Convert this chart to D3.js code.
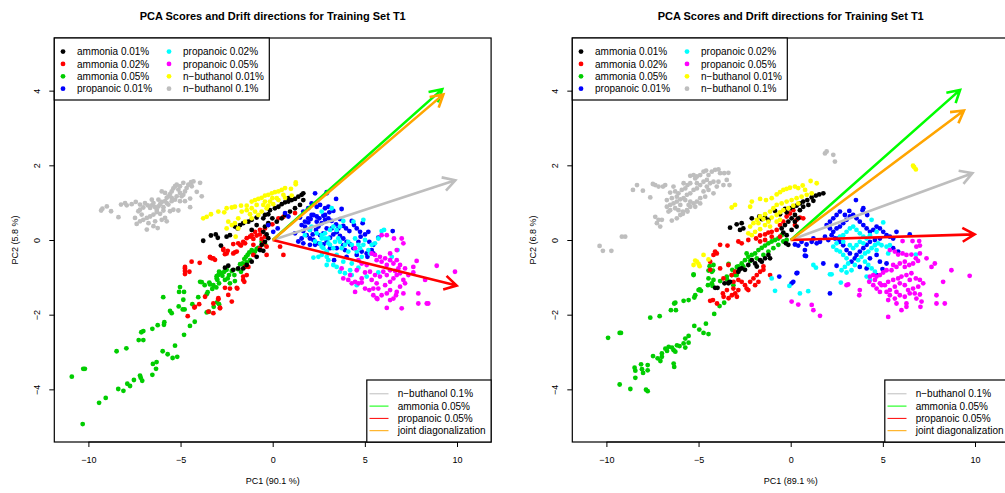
<!DOCTYPE html>
<html><head><meta charset="utf-8">
<script src="https://cdn.jsdelivr.net/npm/d3@7"></script>
<style>
body{margin:0;background:#fff;}
svg{display:block;font-family:"Liberation Sans",Arial,Helvetica,sans-serif;}
</style></head>
<body><svg id="c" width="1005" height="493"></svg>
<script>
// ---------------- DATA ----------------
const titleText = "PCA Scores and Drift directions for Training Set T1";
const groupLabels = ["ammonia 0.01%","ammonia 0.02%","ammonia 0.05%","propanoic 0.01%","propanoic 0.02%","propanoic 0.05%","n\u2212buthanol 0.01%","n\u2212buthanol 0.1%"];
const groupColors = ["#000000","#ff0000","#00cd00","#0000ff","#00ffff","#ff00ff","#ffff00","#bebebe"];
const arrowLabels = ["n\u2212buthanol 0.1%","ammonia 0.05%","propanoic 0.05%","joint diagonalization"];
const arrowColors = ["#bebebe","#00ff00","#ff0000","#ffa500"];
const xTicks = [-10,-5,0,5,10];
const yTicks = [-4,-2,0,2,4];
const xLabels = ["PC1 (90.1 %)","PC1 (89.1 %)"];
const yLabels = ["PC2 (5.8 %)","PC2 (6.8 %)"];

// Left panel drift arrow tips (gray, green, red, orange)
const L_arrowTips = [[9.91,1.6],[9.2,4.04],[9.98,-1.22],[9.26,3.9]];
// Right panel drift arrow tips
const R_arrowTips = [[9.86,1.79],[9.19,4.02],[9.98,0.15],[9.4,3.47]];

// ----- Left panel scores -----
const L_ammonia001 = [[-3.77,-0.02],[-3.35,0.12],[-3.09,0.15],[-2.98,0.06],[-2.81,-0.15],[-2.5,0.09],[-2.32,0.13],[-2.05,0.36],[-1.9,0.31],[-1.77,0.4],[-1.6,0.45],[-1.32,0.49],[-1.14,0.54],[-0.87,0.6],[-0.51,0.58],[-0.42,0.67],[-0.24,0.69],[-0.15,0.8],[0.12,0.85],[0.31,0.89],[0.49,0.96],[0.67,1.01],[0.85,1.03],[1.03,1.07],[1.21,1.1],[1.39,1.16],[1.57,1.21],[1.66,1.07],[1.48,0.94],[1.21,0.85],[0.94,0.76],[0.67,0.67],[0.49,0.58],[0.22,0.49],[-0.02,0.58],[-0.24,0.45],[-0.42,0.36],[-0.51,0.22],[-0.33,0.15],[-0.24,0.05],[-0.42,-0.05],[-0.6,-0.13],[-0.69,-0.27],[-0.51,-0.29],[-0.87,-0.45],[-1.14,-0.58],[-1.41,-0.67],[-1.6,-0.76],[-1.87,-0.76],[-2.14,-0.8],[-2.41,-0.69],[-2.59,-0.74],[-0.87,0.4],[-1.14,0.27],[0.85,1.12],[1.66,1.25]];
const L_ammonia002 = [[-4.4,-0.58],[-3.96,-0.61],[-3.4,-0.47],[-3.31,-0.49],[-3.13,-0.53],[-4.76,-0.76],[-4.76,-0.83],[-4.76,-0.91],[-4.52,-0.85],[-3.67,-1.52],[-3.99,-1.72],[-4.25,-1.81],[-4.61,-2.04],[-3.22,-1.96],[-2.95,-1.56],[-2.86,-1.81],[-4.76,-0.72],[-3.4,-0.45],[-3.22,-0.49],[-2.68,-0.27],[-2.5,-0.36],[-2.14,-0.36],[-1.95,-0.31],[-1.77,-0.13],[-1.5,-0.09],[-2.14,-0.11],[-1.6,-0.98],[-1.6,-1.07],[-1.41,-0.94],[-2.32,-1.3],[-1.92,-1.3],[-2.41,-1.47],[-2.22,-1.65],[-2.95,-1.59],[-3.22,-1.7],[-2.86,-1.83],[-3.49,-1.92],[-4.22,-1.79],[-1.32,-0.72],[-1.05,-0.4],[-0.69,-0.22],[-0.33,-0.18],[-0.51,-0.09],[0.58,-0.4],[-1.5,-0.72],[-2.68,-0.24],[-2.44,-0.29],[-2.59,-0.38],[-2.05,-0.33],[-1.87,-0.09],[-1.72,-0.15],[-1.6,-0.05],[-1.41,0.05],[-1.23,0.09],[-1.05,0.03],[-0.87,0.12],[-0.69,0.15],[-0.6,0.03],[-0.42,0.09],[-1.14,0.13],[-0.96,0.22],[-0.69,0.27],[-0.42,0.31],[-0.24,0.4],[-0.02,0.42],[0.31,0.58],[0.58,0.62],[1.21,0.72],[0.4,-0.18],[-1.95,-1.28],[-1.54,-1.12],[-2.59,-1.28],[-0.33,-0.4],[-1.05,-0.13]];
const L_ammonia005 = [[-10.9,-3.66],[-10.28,-3.45],[-10.19,-3.45],[-10.31,-4.93],[-9.42,-4.36],[-9.06,-4.23],[-8.38,-3.99],[-8.1,-4.04],[-7.89,-3.85],[-7.74,-3.91],[-7.53,-3.75],[-7.2,-3.63],[-7.16,-3.69],[-7.08,-3.77],[-6.53,-3.61],[-6.33,-3.45],[-6.5,-3.32],[-6.3,-3.27],[-5.97,-2.98],[-5.7,-3.06],[-5.43,-3.16],[-5.18,-3.13],[-5.3,-2.83],[-8.47,-2.98],[-7.94,-2.9],[-7.27,-2.68],[-7.02,-2.68],[-7.13,-2.47],[-7.02,-2.44],[-6.53,-2.38],[-6.24,-2.28],[-5.9,-2.27],[-5.88,-2.2],[-4.81,-2.54],[-4.49,-2.3],[-4.23,-2.19],[-5.57,-1.9],[-5.48,-1.96],[-5.94,-1.53],[-5.1,-1.78],[-4.88,-1.86],[-4.78,-1.86],[-5.03,-1.26],[-5.08,-1.39],[-4.81,-1.39],[-4.85,-1.6],[-4.36,-1.72],[-4.04,-1.53],[-3.94,-1.12],[-3.69,-1.21],[-3.44,-1.14],[-3.22,-1.21],[-3.28,-1.31],[-3.06,-1.27],[-3.0,-1.07],[-3.04,-0.97],[-2.91,-0.85],[-3.53,-1.4],[-3.58,-1.45],[-3.58,-1.94],[-3.46,-1.92],[-3.02,-1.67],[-2.91,-1.72],[-3.2,-1.79],[-3.85,-1.13],[-3.4,-1.19],[-3.04,-1.03],[-2.95,-0.94],[-2.81,-0.88],[-2.73,-0.96],[-2.63,-0.85],[-2.5,-0.8],[-2.37,-0.94],[-2.44,-1.03],[-2.22,-0.83],[-2.08,-0.94],[-1.9,-0.78],[-1.77,-0.65],[-1.63,-0.63],[-1.54,-0.51],[-1.45,-0.45],[-1.36,-0.4],[-1.27,-0.33],[-1.14,-0.27],[-1.05,-0.38],[-0.96,-0.31],[-0.87,-0.24],[-0.78,-0.21],[-1.72,-0.85],[-2.05,-1.1],[-2.32,-1.16],[-2.91,-1.16],[-2.59,-1.07],[-1.5,-0.72],[-1.41,-0.6],[-1.23,-0.54],[-0.4,-0.13],[-0.6,-0.05]];
const L_propanoic001 = [[3.44,1.1],[3.74,0.83],[3.29,0.78],[3.07,0.74],[2.75,0.65],[2.53,0.58],[2.39,0.49],[2.21,0.67],[2.06,0.56],[1.93,0.47],[1.75,0.36],[1.66,0.24],[1.84,0.13],[2.02,0.04],[2.17,0.15],[2.35,0.27],[2.48,0.36],[2.66,0.45],[2.84,0.54],[3.02,0.58],[3.2,0.51],[3.44,0.42],[3.65,0.56],[3.83,0.38],[3.98,0.31],[4.16,0.24],[4.29,0.51],[4.41,0.4],[4.56,0.31],[4.74,0.22],[4.88,0.45],[5.01,0.15],[5.19,0.22],[5.24,-0.05],[5.46,-0.13],[5.37,-0.27],[5.1,-0.36],[4.83,-0.31],[4.56,-0.4],[4.38,-0.22],[4.2,-0.12],[4.01,-0.05],[3.83,0.04],[3.65,0.11],[3.47,0.21],[3.29,0.15],[3.11,0.06],[2.93,-0.05],[2.75,-0.12],[2.48,-0.09],[2.3,-0.13],[2.21,0.0],[2.57,0.13],[2.93,0.31],[3.2,0.31],[3.56,0.31],[3.83,-0.14],[3.92,-0.27],[4.01,-0.45],[3.33,-0.54],[3.11,-0.22],[3.47,-0.22],[5.73,0.06],[6.51,0.24],[4.65,-0.05],[4.77,0.09],[5.14,-0.45],[5.46,-0.36],[2.75,0.18],[2.02,0.27],[1.57,0.04],[2.11,0.98],[2.39,0.89],[2.57,0.94],[2.84,0.85],[3.02,0.89],[2.11,0.67],[1.93,0.58],[1.75,0.49],[1.57,0.4],[1.48,0.6],[1.66,0.76],[1.93,0.85],[2.39,0.63],[2.84,0.67],[1.21,0.18],[1.39,-0.04],[1.66,-0.09],[0.67,0.72],[0.85,0.63],[-0.24,0.4],[0.27,0.31],[0.03,0.22],[2.02,-0.13],[2.3,1.25],[2.93,1.25],[2.93,1.28]];
const L_propanoic002 = [[4.92,0.54],[4.38,0.49],[3.83,0.51],[3.65,0.36],[3.47,0.27],[3.29,0.36],[3.11,0.27],[2.84,0.18],[2.66,0.04],[2.75,-0.22],[2.93,-0.31],[2.66,-0.4],[2.93,-0.45],[2.21,-0.47],[3.11,-0.13],[3.38,-0.05],[3.56,0.04],[3.65,-0.05],[3.74,-0.22],[3.92,-0.13],[4.1,-0.05],[4.29,-0.13],[4.47,0.04],[4.65,-0.13],[4.74,-0.22],[4.56,-0.31],[4.83,-0.45],[4.92,-0.13],[5.19,-0.27],[5.28,-0.36],[5.37,-0.13],[3.83,-0.58],[3.47,-0.72],[3.65,-0.85],[3.92,-0.89],[4.2,-0.81],[4.29,-0.94],[4.65,-0.74],[5.1,-0.98],[4.56,-1.21],[5.91,0.24],[6.04,0.27],[5.73,0.04],[5.55,-0.09],[6.78,-0.27],[6.46,-0.45],[5.73,-0.87],[3.29,-0.22],[3.02,0.04],[2.57,-0.09],[3.47,-0.4],[4.1,-0.31],[4.29,-0.63],[5.01,0.0],[3.29,-0.67],[2.66,0.76],[3.2,0.85],[2.11,0.36],[2.02,0.27],[2.39,0.18],[2.66,0.13],[2.84,0.04],[3.02,-0.09],[2.66,-0.18],[2.93,-0.31],[3.02,-0.54],[2.93,-0.67],[2.48,-0.45],[2.3,-0.04],[1.75,0.13]];
const L_propanoic005 = [[5.91,0.13],[6.19,0.13],[6.58,0.04],[7.0,0.04],[7.09,-0.09],[6.73,-0.27],[6.37,-0.36],[6.1,-0.49],[5.82,-0.45],[5.55,-0.4],[5.37,-0.36],[5.64,-0.54],[5.91,-0.58],[6.19,-0.67],[6.37,-0.54],[6.55,-0.63],[6.73,-0.54],[6.91,-0.67],[6.82,-0.76],[6.64,-0.83],[6.37,-0.81],[6.19,-0.94],[6.0,-0.85],[5.82,-0.98],[5.55,-0.94],[5.37,-1.07],[5.64,-1.16],[5.46,-1.3],[5.73,-1.3],[6.1,-1.21],[6.37,-1.12],[6.55,-1.03],[6.73,-0.94],[6.91,-0.89],[7.09,-1.07],[7.18,-1.16],[6.91,-1.25],[6.73,-1.39],[6.37,-1.34],[6.19,-1.43],[5.91,-1.48],[5.68,-1.58],[6.19,-1.82],[7.0,-1.83],[6.69,-1.48],[7.09,-1.43],[6.55,-1.57],[7.9,-1.43],[7.9,-1.7],[8.36,-1.7],[8.9,-0.69],[9.89,-0.85],[8.27,-1.07],[7.63,-0.87],[7.81,-0.56],[7.63,-0.72],[5.28,-0.85],[5.01,-0.87],[5.1,-0.67],[4.83,-0.63],[4.56,-0.81],[4.47,-1.12],[4.29,-1.16],[4.1,-1.07],[3.83,-1.03],[3.74,-0.76],[4.2,-0.94],[4.83,-1.03],[4.83,-1.14],[4.65,-1.16],[4.47,-1.39],[5.01,-1.3],[5.24,-1.34],[4.47,-0.22],[4.65,-0.54],[7.18,-0.76],[7.36,-0.94],[6.37,-1.61],[5.46,-1.48],[5.64,-1.56],[8.44,-1.7]];
const L_buthanol001 = [[-3.77,0.58],[-3.58,0.62],[-3.35,0.69],[-2.95,0.76],[-2.63,0.74],[-2.5,0.85],[-2.22,0.87],[-2.05,0.89],[-1.72,0.92],[-1.41,0.92],[-1.14,1.03],[-0.96,1.07],[-0.78,1.1],[-0.6,1.13],[-0.42,1.19],[-0.24,1.21],[-0.05,1.25],[0.12,1.28],[0.31,1.3],[0.49,1.34],[0.67,1.39],[0.99,1.37],[1.25,1.49],[0.58,1.21],[0.22,1.12],[-0.15,1.03],[-0.51,0.94],[-0.87,0.94],[-1.14,0.85],[-1.41,0.8],[-1.68,0.76],[-1.87,0.58],[-2.05,0.45],[-2.22,0.4],[-2.5,0.31],[-2.41,0.49],[-1.87,0.31],[-1.5,0.49],[-1.14,0.58],[-0.78,0.67],[-0.33,0.85],[0.03,0.96],[0.31,1.07],[0.67,1.13],[1.03,1.19],[-1.23,0.69],[-0.96,0.76],[-0.6,0.76],[-0.24,0.92],[-0.02,1.12],[-0.42,1.03],[-2.01,0.09],[1.25,1.54]];
const L_buthanol01 = [[-9.31,0.79],[-9.24,0.84],[-9.0,0.9],[-8.77,0.77],[-8.37,0.61],[-8.23,0.95],[-8.01,0.99],[-7.92,0.93],[-7.65,0.96],[-7.43,1.02],[-7.29,0.77],[-7.2,0.81],[-7.02,0.87],[-6.93,0.99],[-6.78,0.93],[-6.65,0.86],[-6.56,0.93],[-6.47,0.99],[-6.38,0.88],[-6.29,0.81],[-6.2,0.9],[-6.11,0.96],[-6.02,1.02],[-5.93,0.88],[-5.84,1.04],[-5.75,1.13],[-5.66,1.17],[-5.57,1.23],[-5.48,1.3],[-5.39,1.38],[-5.3,1.44],[-5.21,1.48],[-5.12,1.35],[-5.03,1.26],[-4.94,1.17],[-4.85,1.21],[-4.76,1.3],[-4.67,1.39],[-4.58,1.48],[-4.43,1.55],[-4.3,1.57],[-3.94,1.53],[-4.12,1.29],[-3.85,1.17],[-4.48,1.11],[-4.76,1.04],[-5.03,1.04],[-5.3,1.08],[-5.48,1.13],[-5.75,0.99],[-5.93,0.79],[-6.11,0.7],[-6.29,0.75],[-6.47,0.68],[-6.65,0.63],[-6.83,0.59],[-7.02,0.54],[-7.2,0.5],[-7.38,0.43],[-6.74,0.45],[-6.47,0.37],[-6.83,0.28],[-6.24,0.32],[-6.38,0.5],[-6.02,0.54],[-5.84,0.59],[-5.57,0.77],[-5.39,0.81],[-5.12,0.79],[-4.48,0.88],[-5.75,0.5],[-7.11,0.68],[-7.47,0.59],[-7.2,0.95],[-6.02,1.3],[-5.84,1.26],[-5.03,1.44],[-4.85,1.53],[-4.39,1.44],[-5.48,1.04],[-5.21,1.17],[-5.66,0.95],[-6.2,1.08],[-6.56,1.08]];

// ----- Right panel scores -----
const R_ammonia001 = [[-3.29,0.33],[-2.93,0.42],[-2.66,0.45],[-2.75,0.27],[-2.57,0.31],[-2.11,0.58],[-1.7,0.63],[-1.57,0.56],[-1.39,0.6],[-1.21,0.54],[-0.85,0.78],[-0.58,0.69],[-0.31,0.83],[-0.22,0.74],[-0.04,0.85],[0.14,0.89],[0.32,0.92],[0.5,0.98],[0.68,1.03],[0.9,1.07],[1.14,1.14],[1.37,1.19],[1.55,1.22],[1.77,1.25],[1.23,1.05],[0.96,0.94],[0.68,0.89],[0.5,0.8],[0.23,0.67],[0.05,0.58],[-0.13,0.49],[-0.31,0.4],[-0.49,0.31],[-0.4,0.2],[-0.22,0.13],[-0.26,-0.09],[-0.13,-0.13],[0.23,0.49],[0.41,0.58],[0.32,0.36],[0.05,0.27],[-1.21,-0.4],[-1.39,-0.49],[-1.57,-0.58],[-1.66,-0.54],[-1.93,-0.63],[-2.11,-0.54],[-2.3,-0.67],[-2.48,-0.8],[-2.66,-0.76],[-2.84,-0.85],[-3.29,-1.12],[-3.38,-1.16],[-1.12,-0.49],[-1.84,-0.71],[-4.1,-1.28],[-3.97,-1.28],[-3.59,-1.16],[-3.37,-1.14],[-2.78,-0.79]];
const R_ammonia002 = [[-3.83,-0.13],[-3.43,-0.15],[-2.84,-0.04],[-2.66,-0.09],[-2.3,0.0],[-1.88,0.04],[-1.66,0.12],[-1.39,0.15],[-1.21,0.2],[-1.03,0.22],[-0.76,0.27],[-0.58,0.4],[-0.4,0.49],[-0.22,0.63],[-0.04,0.71],[0.14,0.8],[0.23,0.4],[0.32,0.54],[0.5,0.6],[0.68,0.58],[-1.66,-0.04],[-1.39,0.0],[-0.58,0.09],[-1.03,0.09],[-4.1,-0.31],[-4.19,-0.4],[-4.01,-0.36],[-4.37,-0.58],[-4.37,-0.8],[-3.83,-0.76],[-3.38,-0.67],[-3.2,-0.94],[-3.02,-0.85],[-2.84,-1.07],[-2.66,-1.12],[-2.48,-1.21],[-2.39,-1.3],[-2.2,-1.12],[-2.02,-1.03],[-1.84,-0.94],[-1.66,-0.85],[-1.48,-0.8],[-3.11,-1.3],[-2.84,-1.34],[-2.3,-1.34],[-1.93,-1.21],[-1.75,-1.12],[-1.12,-0.94],[-1.48,-0.71],[-3.65,-1.03],[-4.37,-1.63],[-4.22,-1.61],[-4.0,-1.7],[-3.64,-1.52],[-3.68,-1.43],[-3.46,-1.34],[-3.19,-1.48],[-3.01,-1.43],[-2.92,-1.52],[-3.1,-1.12],[-3.37,-1.56]];
const R_ammonia005 = [[-9.91,-2.62],[-9.28,-2.49],[-9.21,-2.49],[-9.28,-3.87],[-8.7,-3.99],[-7.85,-4.01],[-7.76,-4.05],[-8.43,-3.69],[-8.47,-3.42],[-8.43,-3.5],[-8.12,-3.33],[-8.01,-3.56],[-8.07,-3.46],[-7.76,-3.35],[-7.76,-3.49],[-7.47,-3.11],[-7.22,-3.17],[-7.07,-3.24],[-6.99,-3.13],[-6.99,-3.04],[-6.8,-2.91],[-6.71,-2.97],[-6.62,-2.86],[-6.44,-2.88],[-6.35,-2.95],[-6.26,-2.99],[-6.35,-3.31],[-6.32,-3.4],[-6.17,-2.82],[-6.03,-2.84],[-5.81,-2.77],[-5.72,-2.64],[-5.72,-2.88],[-5.54,-2.75],[-5.54,-2.57],[-5.23,-2.3],[-4.96,-2.4],[-4.73,-2.49],[-4.46,-2.52],[-4.6,-2.24],[-7.62,-2.08],[-7.11,-2.04],[-6.5,-1.88],[-6.23,-1.88],[-6.32,-1.7],[-6.26,-1.68],[-5.81,-1.63],[-5.54,-1.61],[-5.23,-1.54],[-5.18,-1.48],[-4.94,-1.32],[-4.87,-1.36],[-4.49,-1.21],[-4.24,-1.23],[-4.15,-1.98],[-3.86,-1.77],[-3.61,-1.68],[-4.19,-1.07],[-4.46,-0.82],[-4.22,-0.82],[-4.4,-0.7],[-5.27,-0.94],[-3.37,-0.64],[-3.46,-1.05],[-3.17,-0.8],[-3.01,-0.94],[-2.92,-0.72],[-5.27,-0.92],[-4.28,-0.85],[-4.19,-0.67],[-4.46,-1.03],[-4.28,-1.16],[-3.83,-1.1],[-3.47,-0.98],[-3.2,-0.94],[-3.02,-0.85],[-2.84,-0.71],[-2.66,-0.63],[-2.48,-0.54],[-2.3,-0.45],[-2.11,-0.4],[-1.93,-0.36],[-1.75,-0.27],[-1.57,-0.21],[-1.39,-0.15],[-1.21,-0.09],[-1.03,-0.04],[-0.85,0.0],[-0.67,0.04],[-0.49,0.13],[-2.93,-0.94],[-2.57,-0.71],[-2.2,-0.56],[-1.84,-0.49],[-1.48,-0.4],[-1.21,-0.31],[-0.94,-0.22],[-0.67,-0.13],[-0.4,-0.04],[-0.22,0.0],[-2.39,-0.36],[-3.11,-1.21],[-5.0,-1.34]];
const R_propanoic001 = [[3.54,1.07],[3.9,0.8],[2.67,0.76],[2.49,0.67],[2.31,0.58],[2.13,0.49],[1.95,0.4],[2.13,0.31],[2.31,0.22],[2.49,0.31],[2.67,0.36],[2.85,0.45],[3.03,0.54],[3.21,0.63],[3.39,0.67],[3.57,0.58],[3.75,0.49],[3.94,0.4],[4.12,0.31],[4.3,0.22],[4.48,0.27],[4.66,0.36],[4.84,0.31],[5.02,0.22],[5.2,0.13],[5.38,0.09],[5.56,0.04],[4.84,0.04],[4.57,0.0],[4.3,-0.05],[4.12,-0.13],[3.94,-0.22],[3.75,-0.31],[3.57,-0.4],[3.48,-0.49],[3.21,-0.36],[3.03,-0.27],[2.85,-0.14],[2.67,-0.05],[2.58,0.04],[2.4,0.04],[2.22,0.13],[2.04,0.0],[1.86,0.09],[1.59,-0.05],[1.41,-0.09],[1.14,-0.05],[0.86,-0.12],[0.59,-0.05],[0.41,-0.15],[0.23,-0.12],[0.77,-0.27],[0.77,-0.42],[1.77,-0.63],[2.49,-0.69],[3.3,-0.58],[3.75,-0.72],[4.12,-0.76],[4.3,-0.49],[4.66,-0.4],[4.84,-0.58],[5.2,-0.63],[4.98,-0.78],[4.66,-0.94],[5.56,-0.22],[5.83,-0.31],[6.46,0.15],[5.74,0.22],[4.15,0.67],[1.23,0.04],[0.32,-0.89],[0.14,-1.12],[0.05,-1.16],[2.13,-1.43],[3.94,0.85],[3.18,0.78],[2.94,0.67],[-0.62,-0.98],[0.36,-0.88],[0.83,-0.43]];
const R_propanoic002 = [[4.39,0.54],[5.02,0.47],[4.66,0.22],[4.3,0.13],[4.12,0.04],[3.94,0.09],[3.75,0.18],[3.57,0.27],[3.39,0.36],[3.21,0.31],[3.03,0.22],[2.85,0.13],[2.67,0.09],[2.49,-0.09],[2.31,-0.18],[2.49,-0.27],[2.67,-0.31],[2.85,-0.4],[3.03,-0.49],[3.12,-0.63],[2.94,-0.72],[2.76,-0.81],[3.03,-0.87],[3.3,-0.81],[3.48,-0.67],[3.66,-0.54],[3.84,-0.45],[4.03,-0.36],[4.21,-0.31],[4.39,-0.22],[4.57,-0.14],[4.75,-0.09],[4.93,-0.14],[5.2,-0.18],[5.38,-0.14],[4.03,-0.58],[4.21,-0.67],[4.39,-0.76],[4.57,-0.85],[4.12,-0.98],[4.3,-1.07],[1.23,-0.67],[1.37,-0.74],[2.13,-0.92],[2.22,-0.92],[0.95,-1.37],[0.5,-1.43],[-0.07,-1.23],[2.72,-1.14],[6.79,-0.39],[5.29,-0.36],[4.66,-0.27],[3.75,-0.05],[3.21,-0.14],[3.39,-0.22],[3.57,-0.14],[2.85,-0.05],[3.94,-0.09],[-1.03,-1.03],[-0.85,-1.36]];
const R_propanoic005 = [[5.38,-0.27],[5.65,-0.31],[5.83,-0.39],[6.07,-0.36],[6.28,-0.4],[6.55,-0.39],[6.79,-0.49],[6.91,-0.56],[6.64,-0.63],[6.43,-0.67],[6.19,-0.72],[5.92,-0.63],[5.74,-0.72],[5.56,-0.67],[5.47,-0.81],[5.2,-0.81],[5.02,-0.87],[4.84,-0.94],[4.66,-0.98],[4.48,-0.94],[4.3,-0.98],[4.57,-1.07],[4.84,-1.16],[5.11,-1.21],[5.29,-1.12],[5.56,-1.07],[5.83,-1.03],[6.01,-0.98],[6.28,-0.94],[6.55,-0.89],[6.79,-1.03],[7.01,-1.07],[7.19,-1.16],[6.92,-1.25],[6.64,-1.3],[6.37,-1.34],[6.19,-1.21],[5.92,-1.16],[5.65,-1.25],[5.38,-1.34],[5.2,-1.39],[5.38,-1.48],[5.65,-1.57],[5.92,-1.48],[6.19,-1.52],[6.46,-1.43],[6.73,-1.43],[7.01,-1.46],[7.1,-1.65],[6.82,-1.57],[6.28,-1.7],[5.74,-1.7],[5.29,-1.61],[4.93,-1.21],[4.66,-1.3],[3.75,-1.34],[3.72,-1.48],[3.12,-1.19],[3.03,-1.21],[7.04,-1.79],[7.91,-1.48],[7.91,-1.7],[8.36,-1.7],[8.27,-1.12],[8.72,-0.81],[9.71,-0.96],[7.82,-0.63],[7.64,-0.72],[7.37,-0.49],[7.01,-0.36],[6.82,-0.18],[6.07,-0.03],[6.61,-0.03],[6.97,-0.03],[7.01,-0.15],[0.05,-1.65],[0.41,-1.73],[1.14,-1.74],[1.23,-1.88],[1.59,-2.03],[5.29,-2.06],[6.28,-1.79],[6.01,-1.88],[4.84,-1.39],[4.48,-1.21],[4.26,-1.12],[6.19,-0.58],[6.46,-1.07],[5.74,-1.39]];
const R_buthanol001 = [[-5.27,-0.67],[-5.09,-0.58],[-4.94,-0.7],[-4.73,-0.4],[-4.46,-0.52],[-5.18,-0.55],[-5.0,-0.64],[-3.2,0.87],[-3.02,0.94],[-2.2,0.89],[-2.11,1.03],[-1.66,1.1],[-1.34,1.07],[-1.03,1.12],[-0.76,1.22],[-0.58,1.28],[-0.4,1.34],[-0.22,1.37],[-0.04,1.4],[0.23,1.43],[0.41,1.39],[0.65,1.46],[0.78,1.34],[1.08,1.58],[1.41,1.52],[1.14,1.25],[0.87,1.21],[0.59,1.16],[0.32,1.12],[0.05,1.07],[-0.22,1.03],[-0.49,0.98],[-0.76,0.94],[-0.94,0.85],[-1.12,0.76],[-1.39,0.69],[-1.66,0.63],[-1.84,0.54],[-2.02,0.45],[-2.2,0.36],[-2.3,0.18],[-2.11,0.13],[-1.93,0.22],[-1.66,0.29],[-1.39,0.4],[-1.21,0.49],[-1.03,0.6],[-0.76,0.67],[-0.58,0.74],[-0.4,0.8],[-0.13,0.85],[0.14,0.92],[0.41,0.98],[-0.76,0.49],[-1.12,0.36],[-1.48,0.56],[-1.75,0.45],[-0.58,0.54],[6.64,1.99],[6.79,1.89],[6.7,1.95]];
const R_buthanol01 = [[-10.37,-0.16],[-10.19,-0.29],[-9.73,-0.29],[-9.16,0.09],[-8.98,0.09],[-8.56,1.34],[-8.34,1.47],[-8.02,1.32],[-7.62,1.14],[-7.48,1.5],[-7.35,1.47],[-7.17,1.43],[-6.93,1.43],[-6.81,1.47],[-6.54,1.27],[-6.36,1.43],[-6.27,1.3],[-6.09,1.25],[-5.91,1.34],[-5.72,1.38],[-5.6,1.47],[-5.45,1.72],[-5.27,1.74],[-5.09,1.7],[-4.91,1.74],[-4.73,1.83],[-4.59,1.86],[-4.46,1.74],[-4.28,1.83],[-4.1,1.88],[-3.92,1.89],[-3.83,1.79],[-3.61,1.79],[-3.38,1.8],[-3.47,1.61],[-3.65,1.47],[-3.32,1.47],[-4.19,1.56],[-4.37,1.52],[-4.55,1.61],[-4.73,1.56],[-4.91,1.47],[-5.09,1.38],[-5.27,1.34],[-5.45,1.25],[-5.63,1.21],[-5.81,1.12],[-5.99,1.09],[-6.18,1.03],[-6.36,0.98],[-6.54,0.94],[-6.72,0.89],[-6.63,0.76],[-6.54,0.8],[-6.27,0.85],[-6.09,0.8],[-5.99,0.67],[-5.85,0.76],[-5.63,0.8],[-5.45,0.89],[-5.27,0.98],[-5.09,1.03],[-4.91,1.12],[-4.64,1.16],[-4.46,1.34],[-4.01,1.43],[-3.92,1.56],[-6.72,1.07],[-6.45,1.12],[-6.18,1.16],[-5.72,1.07],[-5.45,1.03],[-5.18,0.89],[-4.91,0.98],[-7.35,0.62],[-7.17,0.54],[-6.99,0.54],[-7.26,0.45],[-7.08,0.36],[-6.45,0.52],[-6.18,0.58],[-5.85,0.7],[-5.6,0.76],[-4.19,1.25],[-4.73,1.3],[-5.09,1.52],[-5.45,1.52],[-5.81,1.52],[-5.18,1.65],[-4.55,1.43],[-5.54,0.94],[-5.99,0.94],[1.86,2.32],[1.95,2.37],[2.31,2.28],[2.4,2.1]];

// ---------------- DRAWING ----------------
const svg = d3.select("#c");
const FONT = "'Liberation Sans',Arial,Helvetica,sans-serif";
const panels = [
  {ox:0, groups:[L_ammonia001,L_ammonia002,L_ammonia005,L_propanoic001,L_propanoic002,L_propanoic005,L_buthanol001,L_buthanol01], tips:L_arrowTips, xl:xLabels[0], yl:yLabels[0]},
  {ox:518, groups:[R_ammonia001,R_ammonia002,R_ammonia005,R_propanoic001,R_propanoic002,R_propanoic005,R_buthanol001,R_buthanol01], tips:R_arrowTips, xl:xLabels[1], yl:yLabels[1]}
];
const drawOrder = [7,2,1,0,6,3,4,5];

panels.forEach(p => {
  const ox = p.ox;
  const x = d3.scaleLinear().domain([-11.85,11.85]).range([54.3+ox, 491.1+ox]);
  const y = d3.scaleLinear().domain([-5.41,5.41]).range([442,38]);
  const g = svg.append("g");

  g.append("text").attr("x",272.7+ox).attr("y",20).attr("text-anchor","middle")
    .attr("font-size",11).attr("font-weight","bold").attr("font-family",FONT).text(titleText);

  drawOrder.forEach(k => {
    g.append("g").selectAll("circle").data(p.groups[k]).join("circle")
      .attr("cx",d=>x(d[0])).attr("cy",d=>y(d[1])).attr("r",2.4)
      .attr("fill",groupColors[k]);
  });

  [0,1,2,3].forEach(k => {
    const t = p.tips[k];
    const x0 = x(0), y0 = y(0), x1 = x(t[0]), y1 = y(t[1]);
    const a = Math.atan2(y1-y0, x1-x0), L = 14, ph = Math.PI/6;
    const h1 = [x1 - L*Math.cos(a-ph), y1 - L*Math.sin(a-ph)];
    const h2 = [x1 - L*Math.cos(a+ph), y1 - L*Math.sin(a+ph)];
    g.append("path").attr("d",`M${x0},${y0}L${x1},${y1}M${h1[0]},${h1[1]}L${x1},${y1}L${h2[0]},${h2[1]}`)
      .attr("fill","none").attr("stroke",arrowColors[k]).attr("stroke-width",2.6)
      .attr("stroke-linejoin","miter");
  });

  const xa = g.append("g").attr("transform","translate(0,442)")
    .call(d3.axisBottom(x).tickValues(xTicks).tickSize(5).tickPadding(10).tickFormat(d=>String(d).replace("-","\u2212")));
  xa.select(".domain").remove();
  xa.selectAll("text").attr("font-size",9).attr("font-family",FONT).attr("fill","#000");
  const ya = g.append("g").attr("transform",`translate(${54.3+ox},0)`)
    .call(d3.axisLeft(y).tickValues(yTicks).tickSize(5).tickFormat(d=>String(d).replace("-","\u2212")));
  ya.select(".domain").remove();
  ya.selectAll("text").attr("x",null).attr("dy",null).attr("text-anchor","middle")
    .attr("transform","translate(-14.7,0) rotate(-90)").attr("font-size",9).attr("font-family",FONT).attr("fill","#000");
  g.append("line").attr("x1",x(-10)).attr("x2",x(10)).attr("y1",442).attr("y2",442).attr("stroke","#000");
  g.append("line").attr("x1",54.3+ox).attr("x2",54.3+ox).attr("y1",y(-4)).attr("y2",y(4)).attr("stroke","#000");

  g.append("rect").attr("x",54.3+ox).attr("y",38).attr("width",436.8).attr("height",404)
    .attr("fill","none").attr("stroke","#000").attr("stroke-width",1.2);

  g.append("text").attr("x",272.7+ox).attr("y",484).attr("text-anchor","middle")
    .attr("font-size",9).attr("font-family",FONT).text(p.xl);
  g.append("text").attr("transform",`translate(${17.5+ox},240) rotate(-90)`).attr("text-anchor","middle")
    .attr("font-size",9).attr("font-family",FONT).text(p.yl);

  const lg = g.append("g");
  lg.append("rect").attr("x",54.3+ox).attr("y",38).attr("width",215).attr("height",62)
    .attr("fill","#fff").attr("stroke","#000").attr("stroke-width",1.2);
  groupLabels.forEach((lab,i) => {
    const col = Math.floor(i/4), row = i%4;
    const cy = 51.6 + row*12.35;
    const px = (col===0 ? 63 : 169) + ox;
    lg.append("circle").attr("cx",px).attr("cy",cy).attr("r",2.4).attr("fill",groupColors[i]);
    lg.append("text").attr("x",px+14).attr("y",cy+3.6).attr("font-size",10).attr("font-family",FONT).text(lab);
  });

  const la = g.append("g");
  la.append("rect").attr("x",366.8+ox).attr("y",380).attr("width",124.3).attr("height",62)
    .attr("fill","#fff").attr("stroke","#000").attr("stroke-width",1.2);
  arrowLabels.forEach((lab,i) => {
    const cy = 393.8 + i*12.3;
    la.append("line").attr("x1",369.5+ox).attr("x2",388.5+ox).attr("y1",cy).attr("y2",cy)
      .attr("stroke",arrowColors[i]).attr("stroke-width",1);
    la.append("text").attr("x",397.7+ox).attr("y",cy+3.6).attr("font-size",10).attr("font-family",FONT).text(lab);
  });
});
</script></body></html>
